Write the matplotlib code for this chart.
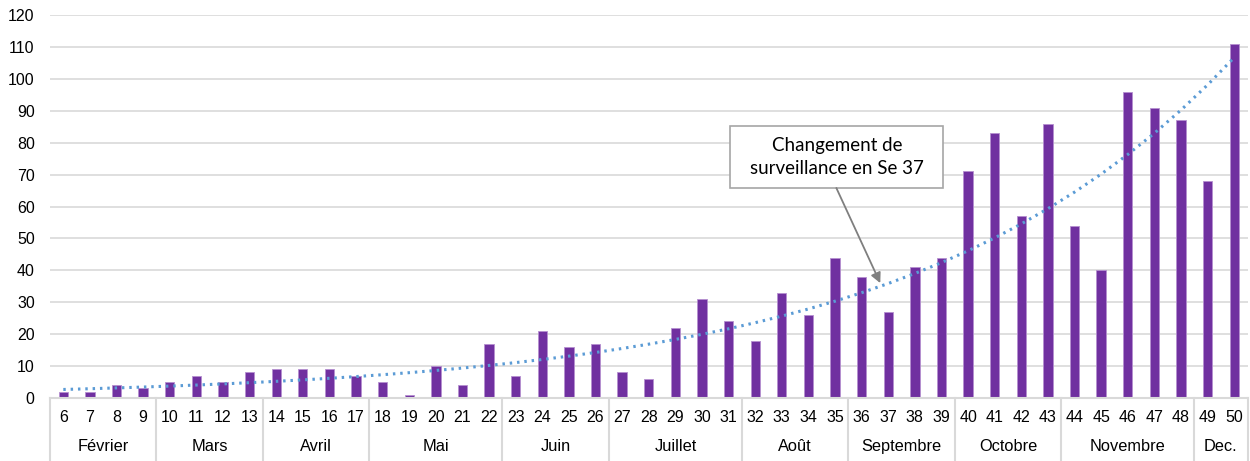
import numpy as np
import matplotlib.pyplot as plt
from matplotlib.patches import Rectangle
from matplotlib.transforms import blended_transform_factory

plt.rcParams['font.family'] = ['Liberation Sans', 'DejaVu Sans']

weeks = list(range(6, 51))
cases = [2, 2, 4, 3, 5, 7, 5, 8, 9, 9, 9, 7, 5, 1, 10, 4, 17, 7, 21, 16,
         17, 8, 6, 22, 31, 24, 18, 33, 26, 44, 38, 27, 41, 44, 71, 83, 57, 86,
         54, 40, 96, 91, 87, 68, 111]
months = ["Février", "Mars", "Avril", "Mai", "Juin", "Juillet", "Août",
          "Septembre", "Octobre", "Novembre", "Dec."]
month_sizes = [4, 4, 4, 5, 4, 5, 4, 4, 4, 5, 2]
note = "Changement de\nsurveillance en Se 37"

x = np.arange(len(weeks))
y = np.array(cases, dtype=float)

# exponential trendline (like Excel): fit ln(y) = a*x + b
a, b = np.polyfit(x, np.log(y), 1)
trend = np.exp(b + a * x)

fig = plt.figure(figsize=(12.5, 4.61), dpi=100)
ax = fig.add_axes([0.04, 0.1367, 0.958, 0.8307])

grid_col = "#D9D9D9"
ax.set_axisbelow(True)
ax.yaxis.grid(True, color=grid_col, linewidth=1.2)
ax.bar(x, y, width=0.35, color="#7030A0", edgecolor="#B58FD0", linewidth=0.6, zorder=2)
ax.plot(x, trend, linestyle=(0, (0.8, 1.6)), color="#5B9BD5", linewidth=2.2, zorder=3)

ax.set_xlim(-0.5, len(weeks) - 0.5)
ax.set_ylim(0, 120)
ax.set_yticks(range(0, 121, 10))
ax.tick_params(axis="y", length=0, labelsize=11.5, pad=11)
ax.set_xticks([])
for s in ["left", "right", "top"]:
    ax.spines[s].set_visible(False)
ax.spines["bottom"].set_color(grid_col)
ax.spines["bottom"].set_linewidth(1.5)

# multi-level category axis
tr = blended_transform_factory(ax.transData, ax.transAxes)
h = ax.bbox.height
for i, w in enumerate(weeks):
    ax.text(i, -20 / h, str(w), transform=tr, ha="center", va="center", fontsize=11.5)
edges = np.concatenate([[0], np.cumsum(month_sizes)]) - 0.5
for k, m in enumerate(months):
    mid = (edges[k] + edges[k + 1]) / 2
    ax.text(mid, -49 / h, m, transform=tr, ha="center", va="center", fontsize=11.8)
for e in edges:
    ax.plot([e, e], [0, -64 / h], transform=tr, color=grid_col, linewidth=1.5, clip_on=False)

# annotation box + arrow
box_x0, box_x1, box_y0, box_y1 = 25.07, 33.06, 65.8, 85.3
ax.add_patch(Rectangle((box_x0, box_y0), box_x1 - box_x0, box_y1 - box_y0,
                       fc="white", ec="#A6A6A6", lw=1.2, zorder=5))
ax.text((box_x0 + box_x1) / 2, (box_y0 + box_y1) / 2, note, ha="center", va="center",
        fontsize=13.5, family="Lato", linespacing=1.45, zorder=6)
ax.annotate("", xy=(30.7, 36), xytext=(29.05, box_y0),
            arrowprops=dict(arrowstyle="-|>", color="#7F7F7F", lw=1.3,
                            mutation_scale=15, shrinkA=0, shrinkB=0),
            zorder=5)

fig.savefig("out.png", dpi=100)
